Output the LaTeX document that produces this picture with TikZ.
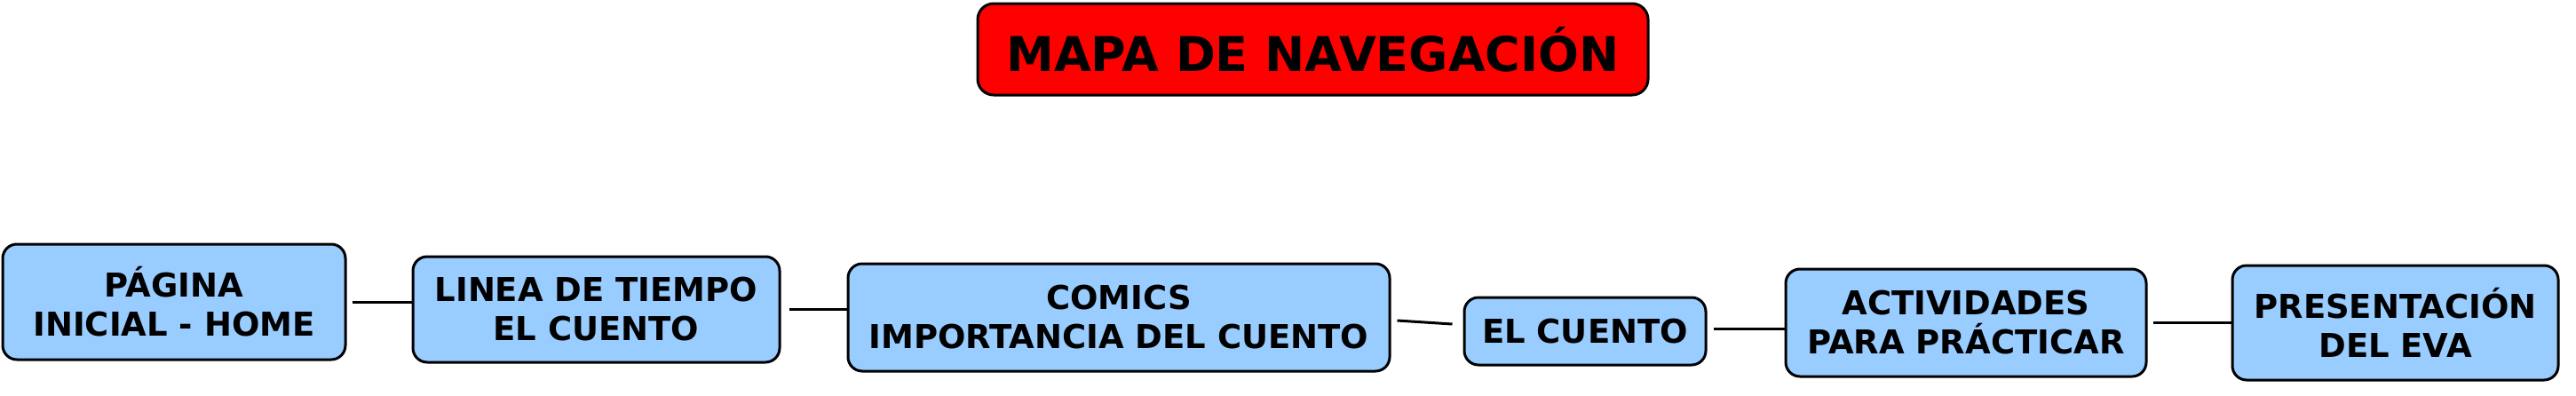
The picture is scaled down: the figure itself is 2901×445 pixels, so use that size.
\documentclass[tikz,border=0pt]{standalone}
\usepackage{fontspec}
\setmainfont{DejaVu Sans}
\definecolor{boxblue}{HTML}{99CCFF}
\definecolor{titlered}{HTML}{FF0000}
\begin{document}
\begin{tikzpicture}[x=0.5pt,y=-0.5pt,
  navbox/.style={draw=black, line width=1.5pt, fill=boxblue, rounded corners=8pt,
    inner sep=0pt, align=center, font=\bfseries\fontsize{18.5pt}{22pt}\selectfont},
  titlebox/.style={draw=black, line width=1.5pt, fill=titlered, rounded corners=9pt,
    inner sep=0pt, align=center, font=\bfseries\fontsize{27pt}{32pt}\selectfont},
  link/.style={draw=black, line width=1.5pt}]
\useasboundingbox (0,0) rectangle (2901,445);
\node[titlebox, minimum width=377.5pt, minimum height=51.5pt] (t) at (1478.5,55.5) {MAPA DE NAVEGACIÓN};
\node[navbox, minimum width=193pt, minimum height=65pt] (b1) at (196,340) {PÁGINA\\ INICIAL - HOME};
\node[navbox, minimum width=206.5pt, minimum height=59.5pt] (b2) at (671.5,348.5) {LINEA DE TIEMPO\\EL CUENTO};
\node[navbox, minimum width=305pt, minimum height=60.5pt] (b3) at (1260,357.5) {COMICS\\IMPORTANCIA DEL CUENTO};
\node[navbox, minimum width=136pt, minimum height=38pt] (b4) at (1785,373) {EL CUENTO};
\node[navbox, minimum width=203pt, minimum height=60.5pt] (b5) at (2214,363.5) {ACTIVIDADES\\PARA PRÁCTICAR};
\node[navbox, minimum width=183.5pt, minimum height=64.5pt] (b6) at (2697.5,363.5) {PRESENTACIÓN\\DEL EVA};
\draw[link] ([xshift=3pt]b1.east) -- (b2.west |- b1.east);
\draw[link] ([xshift=4.5pt]b2.east) -- (b3.west |- b2.east);
\draw[link] ([xshift=3.5pt,yshift=-1.75pt]b3.east) -- ([xshift=-6pt,yshift=4pt]b4.west);
\coordinate (c45) at ([xshift=3.5pt,yshift=1.5pt]b4.east);
\draw[link] (c45) -- (b5.west |- c45);
\draw[link] ([xshift=3pt]b5.east) -- (b6.west |- b5.east);
\end{tikzpicture}
\end{document}
